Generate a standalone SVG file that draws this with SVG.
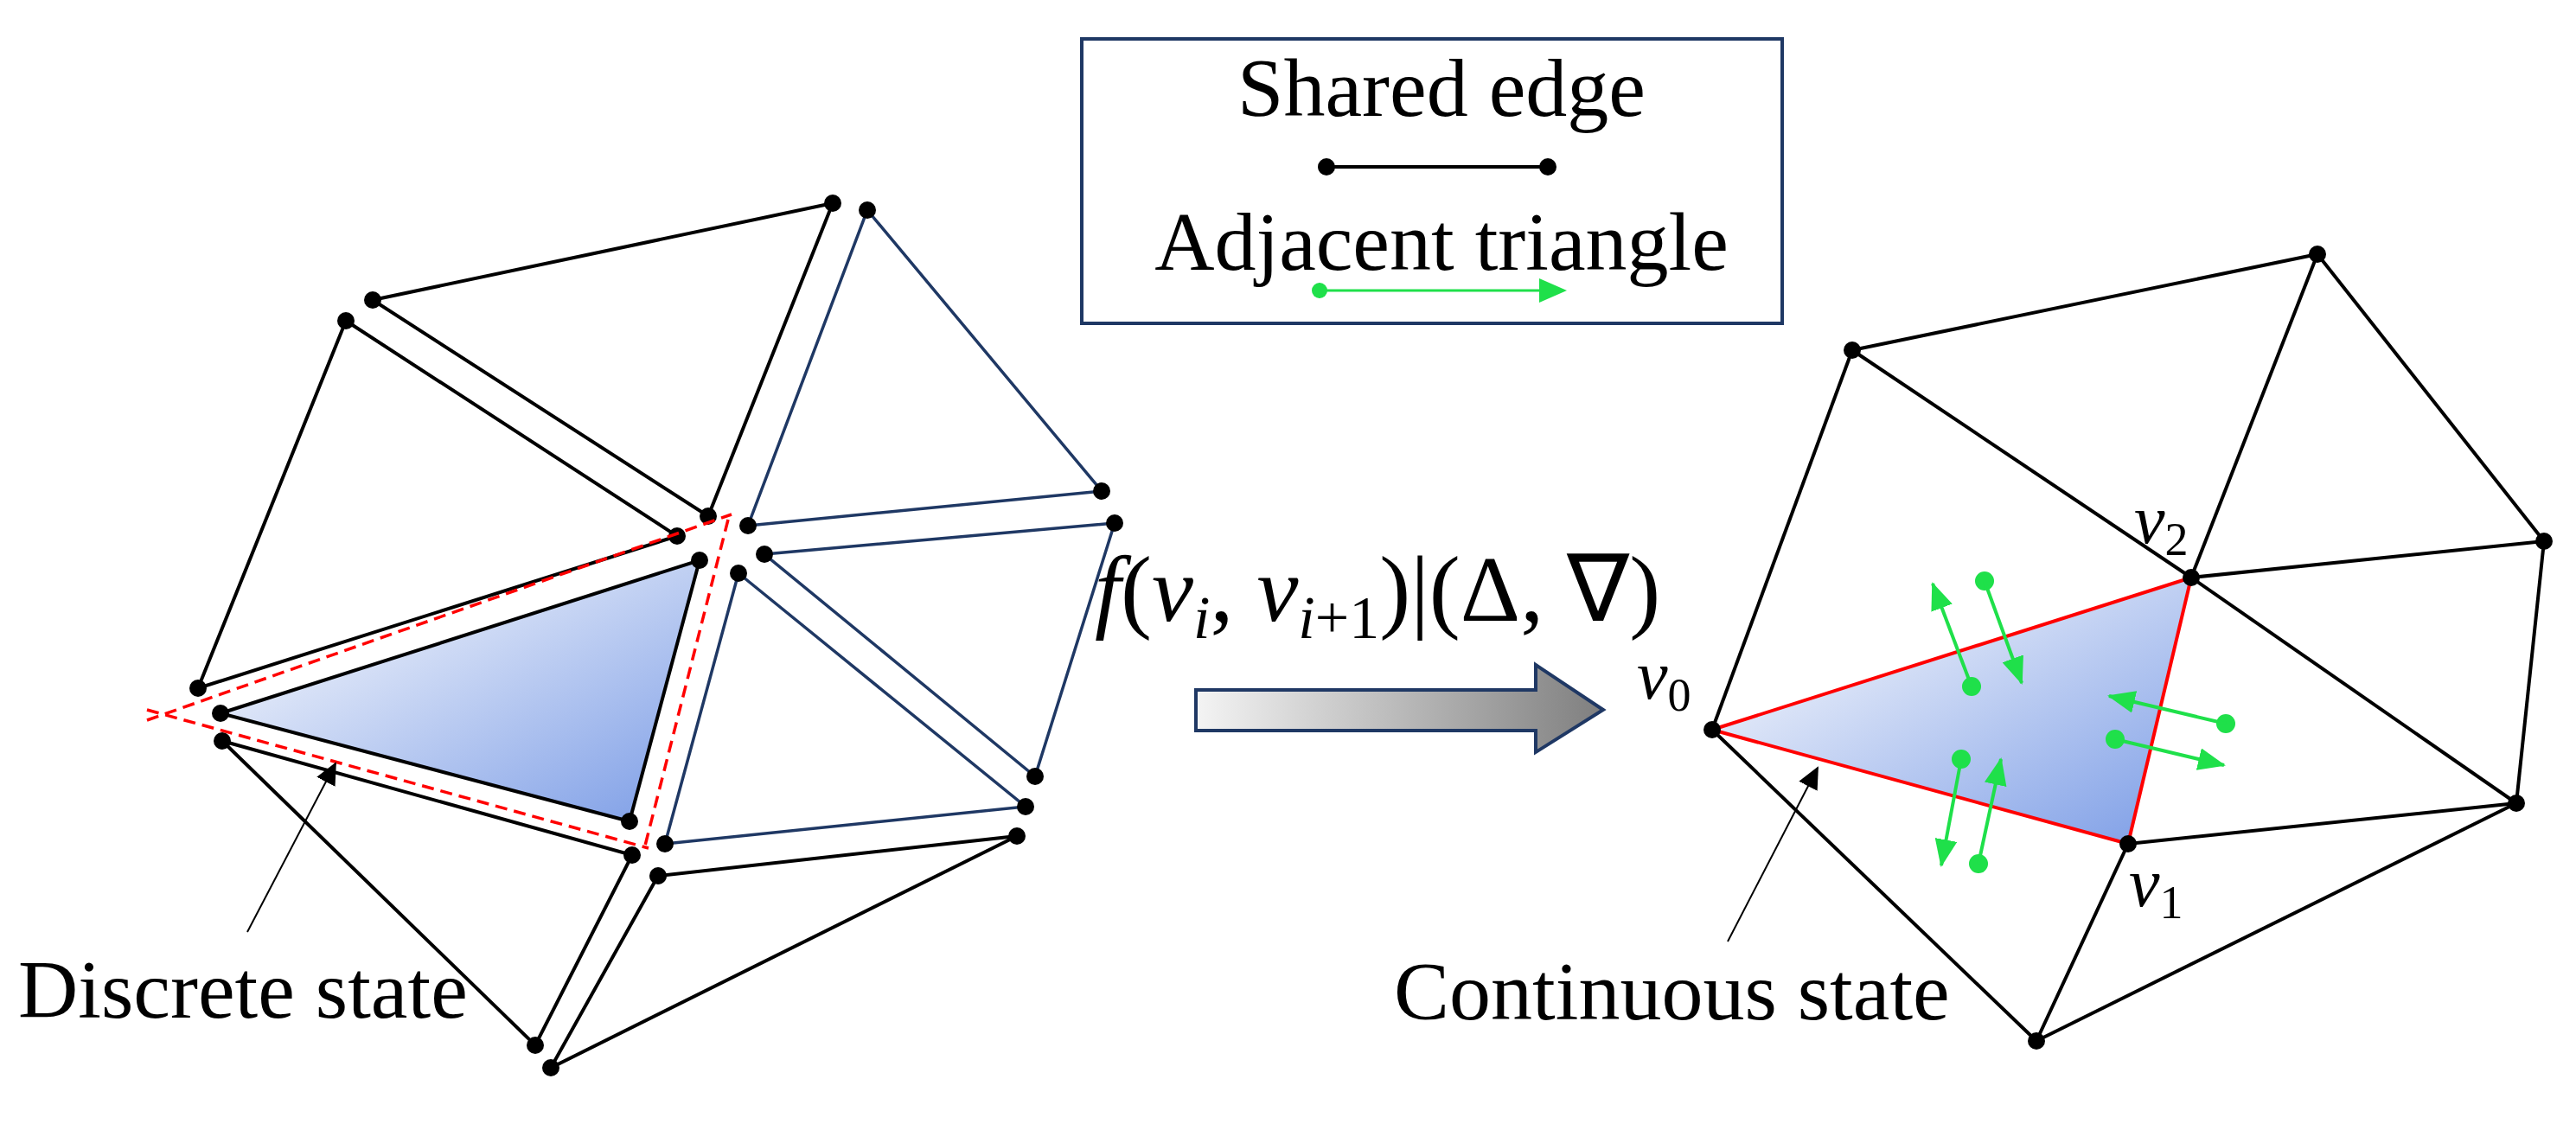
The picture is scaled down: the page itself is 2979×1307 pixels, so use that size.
<svg xmlns="http://www.w3.org/2000/svg" width="2979" height="1307" viewBox="0 0 2979 1307">
<style>
.k{stroke:#000;stroke-width:4;fill:none}
.b{stroke:#1f3864;stroke-width:3.5;fill:none}
.t{font-family:"Liberation Serif",serif;font-size:96px;fill:#000}
.m{font-family:"Liberation Serif",serif;font-style:italic;fill:#000}
.g{stroke:#1fe04a;stroke-width:4;fill:none}
.rd{stroke:#ff0000;stroke-width:3.5;stroke-dasharray:14 8;fill:none}
.d circle{r:10px}
</style>
<defs>
<linearGradient id="tri" x1="0" y1="0" x2="1" y2="1"><stop offset="0.2" stop-color="#eaeffa"/><stop offset="1" stop-color="#7b9ce6"/></linearGradient>
<linearGradient id="arr" x1="0" y1="0" x2="1" y2="0"><stop offset="0" stop-color="#f4f4f4"/><stop offset="1" stop-color="#7f7f7f"/></linearGradient>
<marker id="ga" markerWidth="32" markerHeight="26" refX="30" refY="13" orient="auto" markerUnits="userSpaceOnUse" viewBox="0 0 32 26"><path d="M0,0L32,13L0,26z" fill="#1fe04a"/></marker>
<marker id="ka" markerWidth="26" markerHeight="24" refX="24" refY="12" orient="auto" viewBox="0 0 26 24" markerUnits="userSpaceOnUse"><path d="M0,0L26,12L0,24z" fill="#000"/></marker>
</defs>
<rect width="2979" height="1307" fill="#fff"/>
<g id="legend">
<rect x="1251" y="45" width="810" height="329" fill="#fff" stroke="#1f3864" stroke-width="4"/>
<text class="t" x="1667" y="134" text-anchor="middle" font-size="98">Shared edge</text>
<line class="k" x1="1534" y1="193" x2="1790" y2="193"/>
<circle cx="1534" cy="193" r="10"/><circle cx="1790" cy="193" r="10"/>
<text class="t" x="1667" y="312" text-anchor="middle" font-size="98">Adjacent triangle</text>
<line x1="1526" y1="336" x2="1785" y2="336" stroke="#1fe04a" stroke-width="3"/>
<circle cx="1526" cy="336" r="9" fill="#1fe04a"/>
<path d="M1780,322L1812,336L1780,350z" fill="#1fe04a"/>
</g>
<g id="discrete-mesh">
<polygon class="k" points="431,347 963,235 819,597"/>
<polygon class="k" points="400,371 783,620 229,796"/>
<polygon class="b" points="1003,243 1274,568 865,608"/>
<polygon class="b" points="884,641 1289,605 1197,898"/>
<polygon class="b" points="854,663 1186,933 769,976"/>
<polygon points="255,825 809,648 728,950" fill="url(#tri)" stroke="#000" stroke-width="4"/>
<polygon class="k" points="257,857 731,989 619,1209"/>
<polygon class="k" points="761,1013 1176,967 637,1235"/>
<g fill="#000" class="d">
<circle cx="963" cy="235" r="10"/><circle cx="1003" cy="243" r="10"/><circle cx="431" cy="347" r="10"/><circle cx="400" cy="371" r="10"/>
<circle cx="819" cy="597" r="10"/><circle cx="783" cy="620" r="10"/><circle cx="865" cy="608" r="10"/><circle cx="1274" cy="568" r="10"/>
<circle cx="1289" cy="605" r="10"/><circle cx="809" cy="648" r="10"/><circle cx="884" cy="641" r="10"/><circle cx="854" cy="663" r="10"/>
<circle cx="229" cy="796" r="10"/><circle cx="255" cy="825" r="10"/><circle cx="257" cy="857" r="10"/><circle cx="728" cy="950" r="10"/>
<circle cx="1197" cy="898" r="10"/><circle cx="1186" cy="933" r="10"/><circle cx="769" cy="976" r="10"/><circle cx="731" cy="989" r="10"/>
<circle cx="1176" cy="967" r="10"/><circle cx="761" cy="1013" r="10"/><circle cx="619" cy="1209" r="10"/><circle cx="637" cy="1235" r="10"/>
</g>
<line class="rd" x1="170" y1="833" x2="846" y2="595"/>
<line class="rd" x1="170" y1="821" x2="750" y2="981"/>
<line class="rd" x1="842" y1="601" x2="746" y2="978"/>
</g>
<g id="discrete-label">
<text class="t" x="21" y="1177" font-size="90">Discrete state</text>
</g>
<g id="transform">
<text class="m" x="1266" y="718" font-size="108">f<tspan font-style="normal">(</tspan>v<tspan font-size="70" dy="20">i</tspan><tspan dy="-20" font-style="normal">, </tspan>v<tspan font-size="70" dy="20">i<tspan font-style="normal">+1</tspan></tspan><tspan dy="-20" font-style="normal">)|(Δ, ∇)</tspan></text>
<path d="M1383,798H1776V769L1854,821L1776,870V845H1383z" fill="url(#arr)" stroke="#1f3864" stroke-width="4"/>
</g>
<g id="continuous-mesh">
<polygon points="1980,844 2534,668 2461,976" fill="url(#tri)"/>
<g class="k">
<line x1="1980" y1="844" x2="2142" y2="405"/><line x1="2142" y1="405" x2="2680" y2="294"/>
<line x1="2142" y1="405" x2="2534" y2="668"/><line x1="2680" y1="294" x2="2534" y2="668"/>
<line x1="2680" y1="294" x2="2942" y2="626"/><line x1="2534" y1="668" x2="2942" y2="626"/>
<line x1="2534" y1="668" x2="2910" y2="929"/><line x1="2942" y1="626" x2="2910" y2="929"/>
<line x1="2910" y1="929" x2="2461" y2="976"/><line x1="2461" y1="976" x2="2355" y2="1204"/>
<line x1="2910" y1="929" x2="2355" y2="1204"/><line x1="1980" y1="844" x2="2355" y2="1204"/>
</g>
<polygon points="1980,844 2534,668 2461,976" fill="none" stroke="#ff0000" stroke-width="4"/>
<g fill="#000">
<circle cx="1980" cy="844" r="10"/><circle cx="2142" cy="405" r="10"/><circle cx="2680" cy="294" r="10"/><circle cx="2534" cy="668" r="10"/>
<circle cx="2942" cy="626" r="10"/><circle cx="2910" cy="929" r="10"/><circle cx="2461" cy="976" r="10"/><circle cx="2355" cy="1204" r="10"/>
</g>
<g fill="#1fe04a">
<circle cx="2280" cy="794" r="11"/><circle cx="2295" cy="672" r="11"/><circle cx="2574" cy="837" r="11"/>
<circle cx="2446" cy="855" r="11"/><circle cx="2268" cy="878" r="11"/><circle cx="2288" cy="999" r="11"/>
</g>
<g class="g">
<line x1="2280" y1="794" x2="2235" y2="675" marker-end="url(#ga)"/>
<line x1="2295" y1="672" x2="2338" y2="790" marker-end="url(#ga)"/>
<line x1="2574" y1="837" x2="2439" y2="805" marker-end="url(#ga)"/>
<line x1="2446" y1="855" x2="2572" y2="885" marker-end="url(#ga)"/>
<line x1="2268" y1="878" x2="2245" y2="1001" marker-end="url(#ga)"/>
<line x1="2288" y1="999" x2="2314" y2="878" marker-end="url(#ga)"/>
</g>
<text class="m" x="1893" y="808" font-size="80">v<tspan font-style="normal" font-size="54" dy="14">0</tspan></text>
<text class="m" x="2468" y="628" font-size="80">v<tspan font-style="normal" font-size="54" dy="14">2</tspan></text>
<text class="m" x="2462" y="1048" font-size="80">v<tspan font-style="normal" font-size="54" dy="14">1</tspan></text>
</g>
<g id="continuous-label">
<text class="t" x="1612" y="1179" font-size="90">Continuous state</text>
</g>
<g id="connectors">
<line x1="286" y1="1078" x2="388" y2="883" stroke="#000" stroke-width="2" marker-end="url(#ka)"/>
<line x1="1998" y1="1089" x2="2102" y2="888" stroke="#000" stroke-width="2" marker-end="url(#ka)"/>
</g>
</svg>
